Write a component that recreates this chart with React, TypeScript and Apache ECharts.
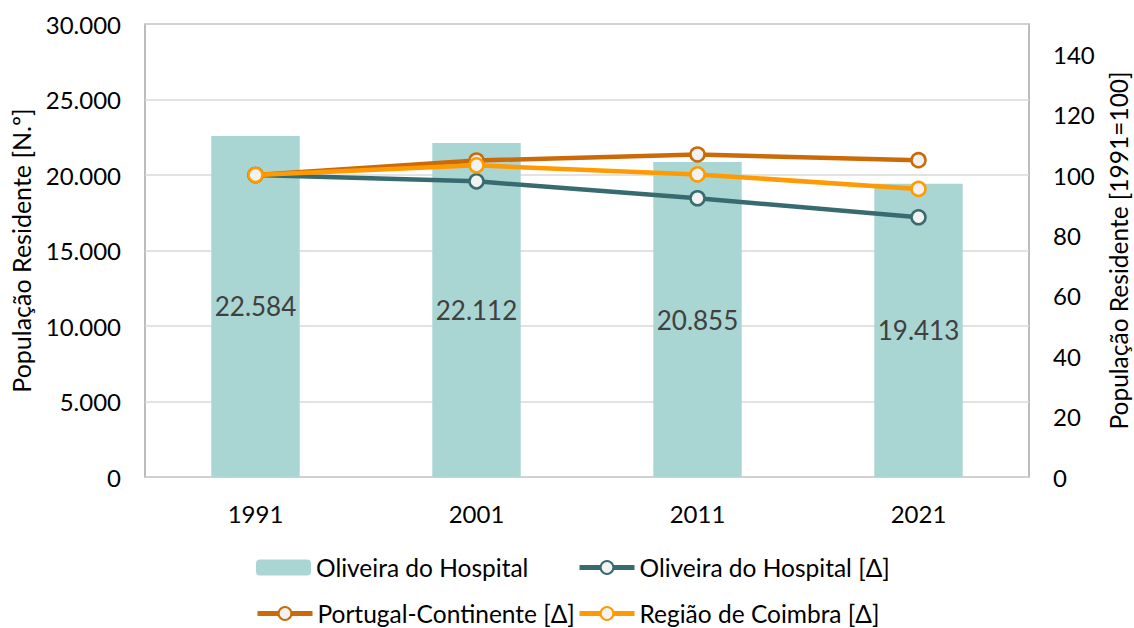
import React, { useEffect, useRef } from "react";
import * as echarts from "echarts";

const years = ["1991", "2001", "2011", "2021"];
const popOliveira = [22584, 22112, 20855, 19413];
const idxOliveira = [100, 97.9, 92.3, 86.0];
const idxPortugal = [100, 104.8, 106.8, 104.9];
const idxCoimbra = [100, 103.2, 100.2, 95.4];
const leftTicks = { min: 0, max: 30000, interval: 5000 };
const rightTicks = { min: 0, max: 150, interval: 20 };

const FONT = "Lato";
const fmtThousands = (v: number) =>
  String(Math.round(v)).replace(/\B(?=(\d{3})+(?!\d))/g, ".");

export default function App() {
  const ref = useRef<HTMLDivElement>(null);
  useEffect(() => {
    const chart = echarts.init(ref.current!, undefined, { renderer: "svg" });
    const lineSeries = (name: string, data: number[], color: string, z: number) => ({
      name,
      type: "line",
      yAxisIndex: 1,
      data,
      z,
      symbol: "circle",
      symbolSize: 14,
      lineStyle: { color, width: 4.5 },
      itemStyle: { color: "#f2f2f2", borderColor: color, borderWidth: 2.5 },
    });
    const legendBase = {
      itemWidth: 55,
      itemHeight: 16,
      textStyle: { fontFamily: FONT, fontSize: 24.5, color: "#000" },
      padding: 0,
      itemGap: 0,
      lineStyle: { width: 5 },
    };
    chart.setOption({
      animation: false,
      textStyle: { fontFamily: FONT },
      grid: {
        left: 145,
        right: 105,
        top: 24,
        bottom: 151,
        outerBoundsMode: "none",
        containLabel: false,
        show: true,
        borderColor: "#a6a6a6",
        borderWidth: 1.5,
        backgroundColor: "transparent",
      },
      legend: [
        { ...legendBase, left: 256, top: 555, data: ["Oliveira do Hospital"] },
        { ...legendBase, left: 577, top: 555, data: ["Oliveira do Hospital [Δ]"] },
        { ...legendBase, left: 255, top: 601, data: ["Portugal-Continente [Δ]"] },
        { ...legendBase, left: 577, top: 601, data: ["Região de Coimbra [Δ]"] },
      ],
      xAxis: {
        type: "category",
        data: years,
        axisLine: { show: false },
        axisTick: { show: false },
        axisLabel: { fontFamily: FONT, fontSize: 24, color: "#000", margin: 24 },
      },
      yAxis: [
        {
          type: "value",
          ...leftTicks,
          name: "População Residente [N.º]",
          nameLocation: "middle",
          nameRotate: 90,
          nameGap: 112,
          nameTextStyle: { fontFamily: FONT, fontSize: 25, color: "#000" },
          axisLine: { show: false },
          axisTick: { show: false },
          axisLabel: {
            fontFamily: FONT,
            fontSize: 24,
            color: "#000",
            margin: 24,
            formatter: (v: number) => fmtThousands(v),
          },
          splitLine: { lineStyle: { color: "#d9d9d9", width: 1.5 } },
        },
        {
          type: "value",
          ...rightTicks,
          name: "População Residente [1991=100]",
          nameLocation: "middle",
          nameRotate: 90,
          nameGap: 77,
          nameTextStyle: { fontFamily: FONT, fontSize: 24.5, color: "#000" },
          axisLine: { show: false },
          axisTick: { show: false },
          axisLabel: {
            fontFamily: FONT,
            fontSize: 24,
            color: "#000",
            margin: 24,
            showMaxLabel: false,
            formatter: (v: number) => (v > 140 ? "" : String(v)),
          },
          splitLine: { show: false },
        },
      ],
      series: [
        {
          name: "Oliveira do Hospital",
          type: "bar",
          data: popOliveira,
          barWidth: "40%",
          itemStyle: { color: "#a9d5d2" },
          label: {
            show: true,
            position: "inside",
            fontFamily: FONT,
            fontSize: 26,
            color: "#404040",
            formatter: (p: any) => fmtThousands(p.value),
          },
          z: 1,
        },
        lineSeries("Oliveira do Hospital [Δ]", idxOliveira, "#376b70", 2),
        lineSeries("Portugal-Continente [Δ]", idxPortugal, "#cc6a08", 3),
        lineSeries("Região de Coimbra [Δ]", idxCoimbra, "#ff9a00", 4),
      ],
    });
    return () => chart.dispose();
  }, []);
  return <div ref={ref} style={{ width: 1134, height: 628, position: "absolute", left: 0, top: 0 }} />;
}
